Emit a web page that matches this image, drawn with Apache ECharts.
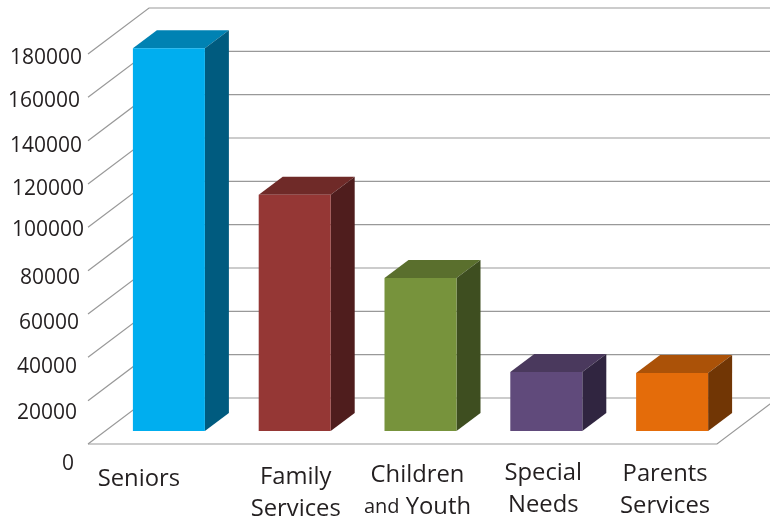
<!DOCTYPE html>
<html><head><meta charset="utf-8">
<style>html,body{margin:0;padding:0;background:#fff}#c{width:770px;height:519px}</style>
<script src="https://cdn.jsdelivr.net/npm/echarts@6/dist/echarts.min.js"></script>
</head><body><div id="c"></div>
<script>
const categories = ['Seniors','Family\nServices','Children\nand Youth','Special\nNeeds','Parents\nServices'];
const values = [176600,109000,70600,27200,26800];
const tickValues = [0,20000,40000,60000,80000,100000,120000,140000,160000,180000];
const frontColors = ['#00AEEF','#953735','#77933C','#604A7B','#E46C0A'];
const topColors = ['#0082B3','#6F2A28','#5A6F2D','#4A395D','#AB5208'];
const sideColors = ['#005B7F','#4F1D1D','#3E4E20','#302540','#713605'];
const tickLabelShift = [[-14,20],[-11,12],[-11,10],[-9,9],[-8,7],[-4,3],[-4,5],[-6,5],[-8,4],[-6,4]];
const catLabelShift = [[-12,35],[19,49],[15,47],[15,45],[11,46]];
const FONT = '"Open Sans","Noto Sans",sans-serif';
const DEPTH = [24,-18], WALL = [61,-46], PLANE = [18,-13], BAR_W = 72;
const add = (p,d)=>[p[0]+d[0],p[1]+d[1]];
const grey = '#999999';
const ink = '#231f20';
const chart = echarts.init(document.getElementById('c'),null,{renderer:'canvas'});
function poly(pts,fill){return {type:'polygon',shape:{points:pts},style:{fill:fill,stroke:null}};}
chart.setOption({
  animation:false,
  backgroundColor:'#fff',
  grid:{left:88,top:54,width:629,height:390},
  xAxis:{type:'category',data:categories,show:false},
  yAxis:{type:'value',min:0,max:180000,interval:20000,show:false},
  series:[
  {type:'custom',coordinateSystem:'cartesian2d',data:tickValues.map((v,i)=>[0,v,i]),silent:true,z:1,
   encode:{x:0,y:1},
   renderItem(params,api){
     const cs=params.coordSys, v=api.value(1), i=api.value(2);
     const y=api.coord([0,v])[1], a=[cs.x,y], b=add(a,WALL), c=[cs.x+cs.width+WALL[0],b[1]];
     const kids=[{type:'polyline',shape:{points:[a,b,c]},style:{stroke:grey,lineWidth:1.2,fill:null}}];
     if(v===0){
       const f=[cs.x+cs.width,y];
       kids.push({type:'polyline',shape:{points:[a,f,add(f,WALL)]},style:{stroke:grey,lineWidth:1.2,fill:null}});
     }
     const s=tickLabelShift[i];
     kids.push({type:'text',style:{text:String(v),x:cs.x+s[0],y:y+s[1],align:'right',verticalAlign:'middle',
       font:'21px '+FONT,fill:ink}});
     return {type:'group',children:kids};
   }},
  {type:'custom',coordinateSystem:'cartesian2d',data:values.map((v,i)=>[i,v]),silent:true,z:2,
   encode:{x:0,y:1},
   renderItem(params,api){
     const i=api.value(0), v=api.value(1);
     const t=add(api.coord([i,v]),PLANE), b=add(api.coord([i,0]),PLANE);
     const l=t[0]-BAR_W/2, r=t[0]+BAR_W/2;
     const tl=[l,t[1]], tr=[r,t[1]], br=[r,b[1]], bl=[l,b[1]];
     return {type:'group',children:[
       poly([tl,tr,add(tr,DEPTH),add(tl,DEPTH)],topColors[i]),
       poly([tr,add(tr,DEPTH),add(br,DEPTH),br],sideColors[i]),
       poly([tl,tr,br,bl],frontColors[i])
     ]};
   }},
  {type:'custom',coordinateSystem:'cartesian2d',data:categories.map((c,i)=>[i,0]),silent:true,z:3,
   encode:{x:0,y:1},
   renderItem(params,api){
     const i=api.value(0), p=api.coord([i,0]), s=catLabelShift[i];
     const lines=categories[i].split('\n');
     const kids=lines.map((txt,k)=>{
       const m=txt.match(/^(and) (.*)$/);
       return {type:'text',style:{
         text:m?('{small|'+m[1]+'} '+m[2]):txt,
         rich:{small:{font:'20px '+FONT,fill:ink}},
         x:p[0]+s[0],y:p[1]+s[1]+(k?32:0)-(lines.length>1?16:0),
         align:'center',verticalAlign:'middle',font:'23.8px '+FONT,fill:ink}};
     });
     return {type:'group',children:kids};
   }}
  ]
});
</script></body></html>
